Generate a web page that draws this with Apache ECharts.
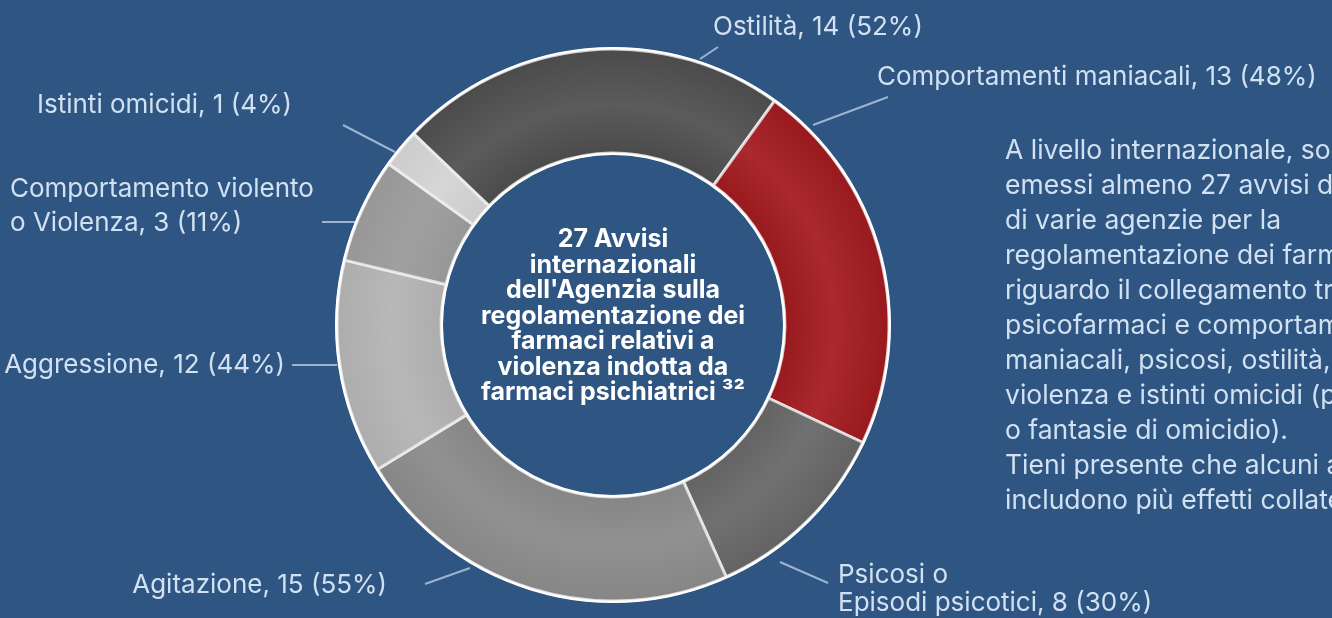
<!DOCTYPE html>
<html>
<head>
<meta charset="utf-8">
<script src="https://cdn.jsdelivr.net/npm/echarts@6/dist/echarts.min.js"></script>
<style>
  html, body { margin: 0; padding: 0; background: #2f5682; }
  #chart { width: 1332px; height: 618px; }
</style>
</head>
<body>
<div id="chart"></div>
<script>
// data
var categories = ['Ostilità', 'Comportamenti maniacali', 'Psicosi o\nEpisodi psicotici', 'Agitazione',
                  'Aggressione', 'Comportamento violento\no Violenza', 'Istinti omicidi'];
var counts = [14, 13, 8, 15, 12, 3, 1];
var percents = [52, 48, 30, 55, 44, 11, 4];
// size of each slice as it is drawn (degrees of arc)
var arcs = [82, 79.4, 40.6, 82.7, 45.1, 22.1, 8.1];

var centerLines = ['27 Avvisi', 'internazionali', "dell'Agenzia sulla", 'regolamentazione dei',
                   'farmaci relativi a', 'violenza indotta da', 'farmaci psichiatrici \u00b3\u00b2'];
var noteLines = ['A livello internazionale, sono stati', 'emessi almeno 27 avvisi da parte',
                 'di varie agenzie per la', 'regolamentazione dei farmaci',
                 'riguardo il collegamento tra', 'psicofarmaci e comportamenti',
                 'maniacali, psicosi, ostilità,', 'violenza e istinti omicidi (pensieri',
                 'o fantasie di omicidio).', 'Tieni presente che alcuni avvisi',
                 'includono più effetti collaterali.'];

// styles / layout
var FONT = 'Inter';
var TXT = '#d2e1f2';
var CX = 613, CY = 325, R_IN = 172, R_OUT = 276;
var sliceColors = [
    ['#4b4b4b', '#5b5b5b'],
    ['#991a1e', '#a9292d'],
    ['#636363', '#717171'],
    ['#868686', '#919191'],
    ['#adadad', '#b8b8b8'],
    ['#979797', '#a0a0a0'],
    ['#cccccc', '#d6d6d6']
];
var labelSpots = [
    {from: [700, 59], to: [718, 47], at: [713, 27], align: 'left'},
    {from: [813, 125], to: [888, 97], at: [877, 77], align: 'left'},
    {from: [780, 562], to: [828, 583], at: [838, 589], align: 'left', lh: 28},
    {from: [470, 568], to: [425, 584], at: [387, 585], align: 'right'},
    {from: [337, 365], to: [292, 365], at: [285, 365], align: 'right'},
    {from: [355, 222], to: [322, 222], at: [10, 206], align: 'left', lh: 34},
    {from: [395, 152], to: [343, 125], at: [37, 105], align: 'left'}
];

var chart = echarts.init(document.getElementById('chart'));

var pieData = categories.map(function (name, i) {
    return {
        name: name,
        value: arcs[i],
        itemStyle: {
            color: new echarts.graphic.RadialGradient(CX, CY, R_OUT, [
                {offset: R_IN / R_OUT, color: sliceColors[i][0]},
                {offset: 0.8, color: sliceColors[i][1]},
                {offset: 1, color: sliceColors[i][0]}
            ], true)
        },
        label: {lineHeight: labelSpots[i].lh || 30}
    };
});

var ring = function (r0, r1) {
    return {
        type: 'pie',
        center: [CX, CY],
        radius: [r0, r1],
        silent: true,
        z: 3,
        label: {show: false},
        labelLine: {show: false},
        itemStyle: {color: '#ffffff'},
        data: [{value: 1}]
    };
};

var option = {
    backgroundColor: '#2f5682',
    animation: false,
    graphic: [
        {
            type: 'text',
            x: CX,
            y: 316,
            style: {
                text: centerLines.join('\n'),
                fill: '#ffffff',
                font: 'bold 25px ' + FONT,
                lineHeight: 25.5,
                align: 'center',
                verticalAlign: 'middle'
            }
        },
        {
            type: 'text',
            x: 1005,
            y: 134,
            style: {
                text: noteLines.join('\n'),
                fill: TXT,
                font: '26.5px ' + FONT,
                lineHeight: 35,
                align: 'left',
                verticalAlign: 'top'
            }
        }
    ],
    series: [
        {
            type: 'pie',
            center: [CX, CY],
            radius: [R_IN, R_OUT],
            startAngle: 136.2,
            clockwise: true,
            avoidLabelOverlap: false,
            silent: true,
            itemStyle: {
                borderColor: 'rgba(240,240,240,0.8)',
                borderWidth: 3
            },
            label: {
                show: true,
                position: 'outside',
                color: TXT,
                fontFamily: FONT,
                fontSize: 26,
                formatter: function (p) {
                    return p.name + ', ' + counts[p.dataIndex] + ' (' + percents[p.dataIndex] + '%)';
                }
            },
            labelLine: {
                show: true,
                lineStyle: {color: 'rgba(195,212,232,0.75)', width: 2}
            },
            labelLayout: function (params) {
                var s = labelSpots[params.dataIndex];
                return {
                    x: s.at[0],
                    y: s.at[1],
                    align: s.align,
                    verticalAlign: 'middle',
                    labelLinePoints: [s.from, s.to, s.to]
                };
            },
            data: pieData
        },
        ring(R_OUT - 0.5, R_OUT + 2),
        ring(R_IN - 2, R_IN + 0.5)
    ]
};

chart.setOption(option);
</script>
</body>
</html>
